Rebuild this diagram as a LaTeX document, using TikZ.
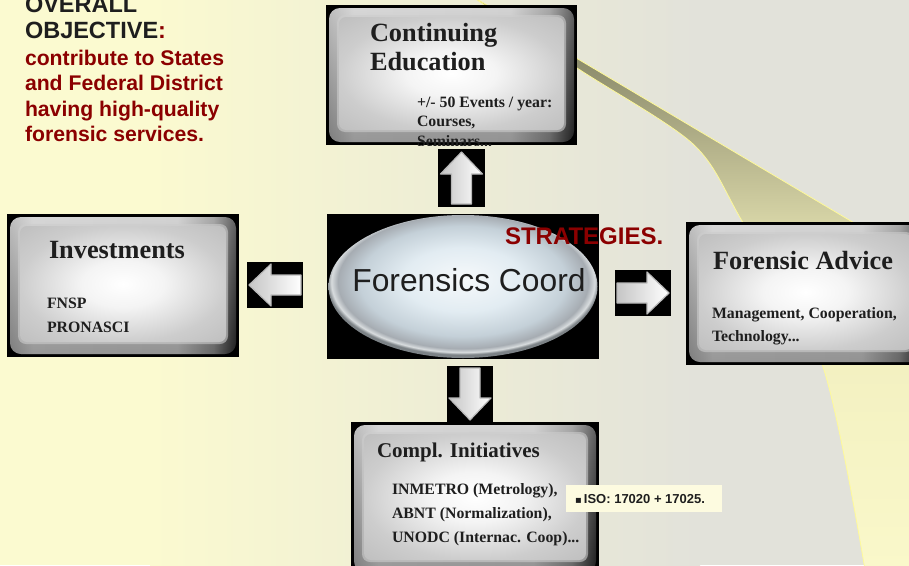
\documentclass[tikz,border=0pt]{standalone}
\usepackage{fontspec}
\setmainfont{Liberation Serif}
\setsansfont{Liberation Sans}
\newfontfamily\dejavu{DejaVu Sans}
\usetikzlibrary{calc}
\definecolor{bgY}{HTML}{FBFAD0}
\definecolor{bgG}{HTML}{E2E2DA}
\definecolor{cA}{HTML}{74745A}
\definecolor{cB}{HTML}{8C8C6C}
\definecolor{cC}{HTML}{B6B48C}
\definecolor{cD}{HTML}{D6D4A6}
\definecolor{cE}{HTML}{F2F0C0}
\definecolor{cF}{HTML}{FAF8CA}
\definecolor{darkred}{HTML}{8B0000}
\definecolor{txt}{HTML}{1E1E1E}
\definecolor{isoY}{HTML}{FDFBE0}
\definecolor{rA}{HTML}{A8A8A8}
\definecolor{rB}{HTML}{CACACA}
\definecolor{rC}{HTML}{C4C4C4}
\definecolor{rD}{HTML}{8A8A8A}
\definecolor{rE}{HTML}{2A2A2A}
\definecolor{fA}{HTML}{FFFFFF}
\definecolor{fB}{HTML}{F4F4F4}
\definecolor{fC}{HTML}{CDCDCD}
\definecolor{fD}{HTML}{ABABAB}
\definecolor{eA}{HTML}{F6F9FB}
\definecolor{eB}{HTML}{E2ECF2}
\definecolor{eC}{HTML}{C4D0D8}
\definecolor{eD}{HTML}{A6ACB2}
\definecolor{eE}{HTML}{D8DCDE}
\definecolor{eF}{HTML}{7C8286}
\pgfdeclareradialshading{ellsh}{\pgfpoint{0bp}{3bp}}{color(0bp)=(eA); color(11bp)=(eB); color(19bp)=(eC); color(23bp)=(eD); color(24.2bp)=(eE); color(25bp)=(eF); color(50bp)=(eF)}
\pgfdeclareradialshading{facesh}{\pgfpoint{0bp}{0bp}}{color(0bp)=(fA); color(10bp)=(fB); color(25bp)=(fC); color(50bp)=(fD)}
\pgfdeclarehorizontalshading{ringsh}{100bp}{color(0bp)=(rA); color(25bp)=(rA); color(30bp)=(rB); color(62bp)=(rC); color(70bp)=(rD); color(75bp)=(rE); color(100bp)=(rE)}
\pgfdeclareverticalshading{cressh}{100bp}{color(0bp)=(cF); color(25bp)=(cF); color(45bp)=(cE); color(55.3bp)=(cD); color(61.5bp)=(cC); color(69.3bp)=(cB); color(75bp)=(cA); color(100bp)=(cA)}
\tikzset{
  panel/.style={fill=black, inner sep=0pt, outer sep=0pt, path picture={
    \path (path picture bounding box.south west) coordinate (pSW)
          (path picture bounding box.north east) coordinate (pNE);
    \shade[rounded corners=11pt, shading=ringsh]
      ([shift={(3pt,3pt)}]pSW) rectangle ([shift={(-3pt,-3pt)}]pNE);
    \shade[rounded corners=11pt, top color=white, bottom color=black, opacity=0.25]
      ([shift={(3pt,3pt)}]pSW) rectangle ([shift={(-3pt,-3pt)}]pNE);
    \fill[rounded corners=8pt, fC, opacity=0.6]
      ([shift={(11pt,13pt)}]pSW) rectangle ([shift={(-11pt,-10pt)}]pNE);
    \shade[rounded corners=7pt, shading=facesh]
      ([shift={(13pt,15pt)}]pSW) rectangle ([shift={(-13pt,-12pt)}]pNE);
  }},
  arrowbox/.style={fill=black, inner sep=0pt, outer sep=0pt},
  arrowfill/.style={left color=gray!45, right color=white, draw=gray!55, line width=1.2pt, line join=round},
  lbl/.style={anchor=base west, inner sep=0pt, outer sep=0pt, text=txt},
  bigser/.style={lbl, font=\bfseries\fontsize{26.3}{31}\selectfont},
  midser/.style={lbl, font=\bfseries\fontsize{21}{25}\selectfont},
  smallser/.style={lbl, font=\bfseries\fontsize{15.8}{18}\selectfont},
  objred/.style={lbl, text=darkred, font=\sffamily\bfseries\fontsize{21.2}{25}\selectfont},
}
\newcommand{\blockarrow}[2]{%
  \begin{scope}[shift={(#1.center)}, rotate=#2]
    \shadedraw[arrowfill]
      (-26pt,-10pt) -- (4pt,-10pt) -- (4pt,-21pt) -- (26pt,0pt) -- (4pt,21pt) -- (4pt,10pt) -- (-26pt,10pt) -- cycle;
  \end{scope}}
\begin{document}
\begin{tikzpicture}[x=1pt,y=-1pt]
\useasboundingbox (0,0) rectangle (909,565);
% background
\fill[bgY] (0,0) rectangle (909,565);
\shade[left color=bgY, right color=bgG] (150,0) rectangle (700,565);
\fill[bgG] (700,0) rectangle (909,565);
% crescent swoosh
\shade[shading=cressh]
  (470,-5) -- (930,268) -- (930,570)
  -- plot[smooth] coordinates {(865,570) (822,364) (742,221) (693,144) (577,68) (470,-5)} -- cycle;
\draw[white!60!yellow, line width=0.8pt] (470,-5) -- (930,268);
\draw[white!60!yellow, line width=0.8pt] plot[smooth] coordinates {(865,570) (822,364) (742,221) (693,144) (577,68) (470,-5)};
% objective text
\node[lbl, font=\sffamily\bfseries\fontsize{23.5}{27}\selectfont] (t1) at (25,12) {OVERALL};
\node[lbl, font=\sffamily\bfseries\fontsize{23.5}{27}\selectfont] (t2) at (25,38) {OBJECTIVE\textcolor{darkred}{:}};
\node[objred] (t3) at (25,65) {contribute to States};
\node[objred] (t4) at (25,90.5) {and Federal District};
\node[objred] (t5) at (25,116) {having high-quality};
\node[objred] (t6) at (25,141) {forensic services.};
% Continuing Education
\node[panel, minimum width=251pt, minimum height=140pt] (ce) at (451.5,75) {};
\begin{scope}
\clip (ce.south west) rectangle (ce.north east);
\node[bigser] (ce1) at (370,41) {Continuing};
\node[bigser] (ce2) at (370,70) {Education};
\node[smallser] (ce3) at (417,107) {+/- 50 Events / year:};
\node[smallser] (ce4) at (417,126) {Courses,};
\node[smallser] (ce5) at (417,146) {Seminars...};
\end{scope}
% Investments
\node[panel, minimum width=232pt, minimum height=143pt] (inv) at (123,285.5) {};
\node[bigser] (inv1) at (49,258) {Investments};
\node[smallser] (inv2) at (47,308) {FNSP};
\node[smallser] (inv3) at (47,332) {PRONASCI};
% Forensic Advice
\node[panel, minimum width=239pt, minimum height=143pt] (fa) at (805.5,293.5) {};
\node[bigser] (fa1) at (713,269) {Forensic Advice};
\node[smallser] (fa2) at (712,318) {Management, Cooperation,};
\node[smallser] (fa3) at (712,341) {Technology...};
% Compl. Initiatives
\node[panel, minimum width=248pt, minimum height=153pt] (ci) at (475,498.5) {};
\node[midser] (ci1) at (377,457) {Compl. Initiatives};
\node[smallser] (ci2) at (392,494) {INMETRO (Metrology),};
\node[smallser] (ci3) at (392,518) {ABNT (Normalization),};
\node[smallser] (ci4) at (392,542) {UNODC (Internac. Coop)...};
% ISO note
\node[fill=isoY, inner sep=0pt, minimum width=156pt, minimum height=27pt] (iso) at (644,498.5) {};
\node[lbl, font=\sffamily\bfseries\fontsize{13}{15}\selectfont] (isot) at (575,503) {{\dejavu\fontsize{10}{11}\selectfont ▪}\,ISO: 17020 + 17025.};
% Forensics Coord
\node[fill=black, inner sep=0pt, outer sep=0pt, minimum width=272pt, minimum height=145pt,
  path picture={\shade[shading=ellsh] (path picture bounding box.center) ellipse [x radius=134.5pt, y radius=71.5pt];}] (fc) at (463,286.5) {};
\node[anchor=base, inner sep=0pt, text=txt, font=\sffamily\fontsize{31.8}{36}\selectfont] (fct) at (469,291) {Forensics Coord};
\node[lbl, text=darkred, font=\sffamily\bfseries\fontsize{24}{28}\selectfont] (str) at (505,244) {STRATEGIES.};
% block arrows
\node[arrowbox, minimum width=47pt, minimum height=58pt] (au) at (461.5,178) {};
\node[arrowbox, minimum width=56pt, minimum height=46pt] (al) at (275,285) {};
\node[arrowbox, minimum width=56pt, minimum height=46pt] (ar) at (643,293) {};
\node[arrowbox, minimum width=46pt, minimum height=56pt] (ad) at (470,394) {};
\blockarrow{au}{90}
\blockarrow{al}{180}
\blockarrow{ar}{0}
\blockarrow{ad}{-90}
\end{tikzpicture}
\end{document}
